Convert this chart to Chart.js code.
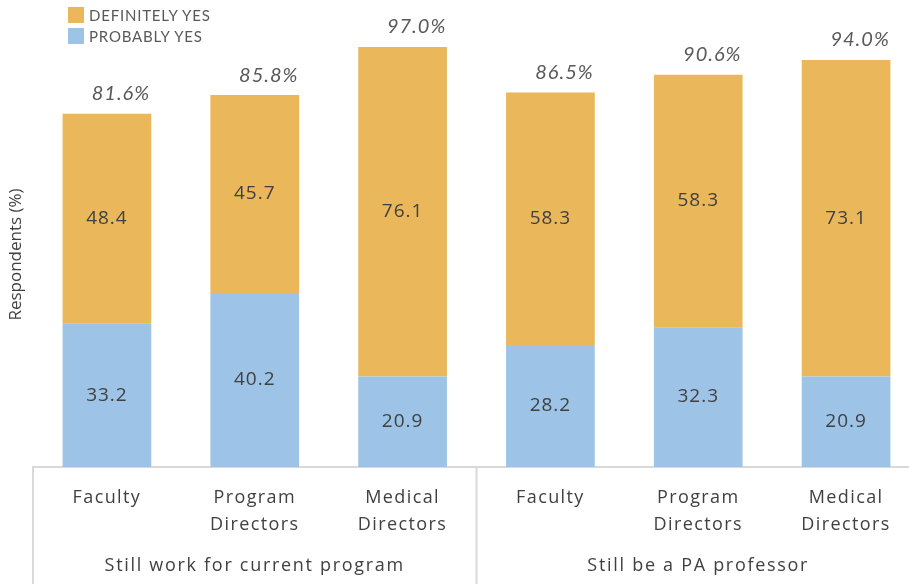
<!DOCTYPE html>
<html>
<head>
<meta charset="utf-8">
<script src="https://cdn.jsdelivr.net/npm/chart.js@4"></script>
<style>
  html, body { margin: 0; padding: 0; background: #fff; overflow: hidden; }
  #wrap { position: relative; width: 920px; height: 584px; }
  #legend { position: absolute; left: 68px; top: 4px; font-family: Lato, sans-serif; font-size: 15px; letter-spacing: 0.8px; color: #595959; }
  #legend .item { display: flex; align-items: center; height: 21px; }
  #legend .sw { width: 16px; height: 16px; margin-right: 5px; }
</style>
</head>
<body>
<div id="wrap">
  <canvas id="c" width="920" height="584"></canvas>
  <div id="legend"></div>
</div>
<script>
const categories = [["Faculty"], ["Program", "Directors"], ["Medical", "Directors"], ["Faculty"], ["Program", "Directors"], ["Medical", "Directors"]];
const groups = ["Still work for current program", "Still be a PA professor"];
const groupSize = 3;
const probablyYes = [33.2, 40.2, 20.9, 28.2, 32.3, 20.9];
const definitelyYes = [48.4, 45.7, 76.1, 58.3, 58.3, 73.1];
const totals = ["81.6%", "85.8%", "97.0%", "86.5%", "90.6%", "94.0%"];
const yTitle = "Respondents (%)";

const ORANGE = "#EAB85B";
const BLUE = "#9DC3E6";
const TEXT = "#404040";

const spacingPlugin = {
  id: "spacing",
  beforeDraw(chart) { chart.ctx.letterSpacing = "1.4px"; }
};

const labelPlugin = {
  id: "labels",
  afterDatasetsDraw(chart) {
    const ctx = chart.ctx;
    ctx.save();
    ctx.textAlign = "center";
    ctx.textBaseline = "middle";
    ctx.fillStyle = TEXT;
    ctx.font = "19px 'Open Sans'";
    ctx.letterSpacing = "1px";
    chart.data.datasets.forEach((ds, di) => {
      const meta = chart.getDatasetMeta(di);
      meta.data.forEach((el, i) => {
        const y = (el.y + el.base) / 2;
        ctx.fillText(ds.data[i].toFixed(1), el.x, y);
      });
    });
    const top = chart.getDatasetMeta(chart.data.datasets.length - 1);
    ctx.fillStyle = "#595959";
    ctx.font = "italic 20px Lato";
    ctx.letterSpacing = "1px";
    top.data.forEach((el, i) => {
      ctx.fillText(totals[i], el.x + 14, el.y - 20);
    });
    ctx.restore();
  }
};

const groupPlugin = {
  id: "groups",
  afterDraw(chart) {
    const ctx = chart.ctx;
    const x = chart.scales.x;
    const area = chart.chartArea;
    const bottom = area.bottom;
    ctx.save();
    ctx.strokeStyle = "#D9D9D9";
    ctx.lineWidth = 2;
    const half = (x.getPixelForValue(1) - x.getPixelForValue(0)) / 2;
    for (let g = 0; g <= groups.length; g++) {
      const idx = g * groupSize;
      const px = x.getPixelForValue(idx) - half;
      ctx.beginPath();
      ctx.moveTo(px, bottom);
      ctx.lineTo(px, chart.height);
      ctx.stroke();
    }
    ctx.fillStyle = TEXT;
    ctx.font = "18px 'Open Sans'";
    ctx.letterSpacing = "1.7px";
    ctx.textAlign = "center";
    ctx.textBaseline = "middle";
    groups.forEach((g, gi) => {
      const a = x.getPixelForValue(gi * groupSize) - half;
      const b = x.getPixelForValue(gi * groupSize + groupSize - 1) + half;
      ctx.fillText(g, (a + b) / 2, 566);
    });
    // y axis title
    ctx.letterSpacing = "0px";
    ctx.font = "17px 'Open Sans'";
    ctx.translate(16, (area.top + area.bottom) / 2 + 4);
    ctx.rotate(-Math.PI / 2);
    ctx.fillText(yTitle, 0, 0);
    ctx.restore();
  }
};

const chart = new Chart(document.getElementById("c"), {
  type: "bar",
  data: {
    labels: categories,
    datasets: [
      { label: "PROBABLY YES", data: probablyYes, backgroundColor: BLUE },
      { label: "DEFINITELY YES", data: definitelyYes, backgroundColor: ORANGE }
    ]
  },
  options: {
    responsive: false,
    animation: false,
    devicePixelRatio: 1,
    layout: { padding: { top: 34, right: 0, left: 33, bottom: 0 } },
    plugins: { legend: { display: false }, tooltip: { enabled: false } },
    datasets: { bar: { barPercentage: 0.6, categoryPercentage: 1 } },
    scales: {
      x: {
        stacked: true,
        grid: { display: false, drawTicks: false },
        border: { display: true, color: "#D9D9D9", width: 2 },
        ticks: { color: TEXT, font: { family: "'Open Sans'", size: 18, lineHeight: 1.5 }, padding: 17, maxRotation: 0, autoSkip: false },
        afterFit(s) { s.height = 117; }
      },
      y: {
        display: false,
        stacked: true,
        min: 0, max: 100
      }
    }
  },
  plugins: [spacingPlugin, labelPlugin, groupPlugin]
});

const legend = document.getElementById("legend");
[...chart.data.datasets].reverse().forEach(ds => {
  const item = document.createElement("div");
  item.className = "item";
  const sw = document.createElement("div");
  sw.className = "sw";
  sw.style.background = ds.backgroundColor;
  const t = document.createElement("span");
  t.textContent = ds.label;
  item.appendChild(sw);
  item.appendChild(t);
  legend.appendChild(item);
});
</script>
</body>
</html>
